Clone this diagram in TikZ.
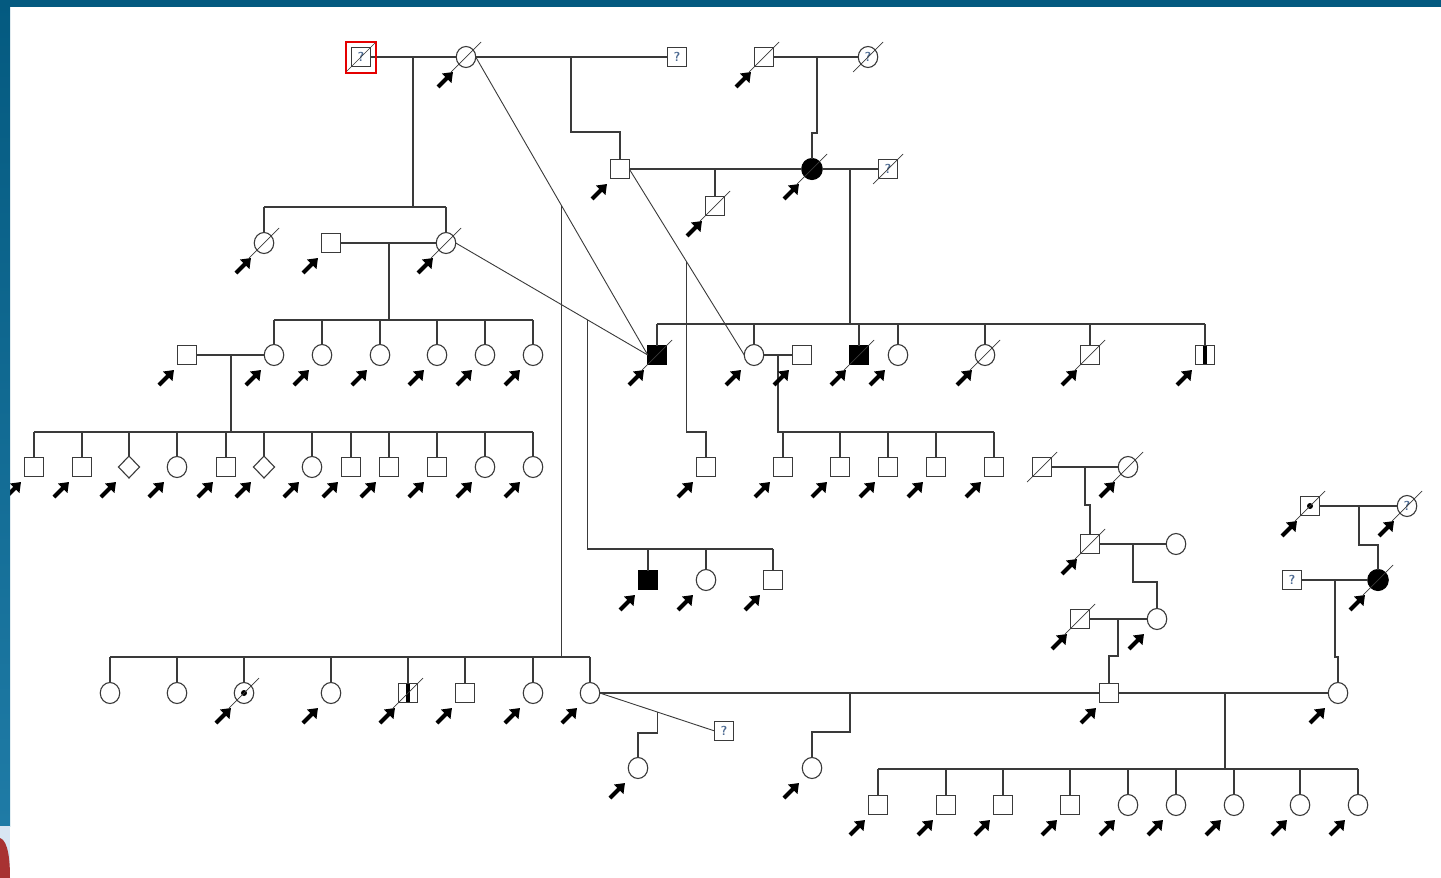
\documentclass[tikz,border=0pt]{standalone}
\usetikzlibrary{shapes.geometric,arrows.meta,calc}
\definecolor{lc}{HTML}{3A3A3A}
\definecolor{qc}{HTML}{4A6890}
\definecolor{bdA}{HTML}{045A80}
\definecolor{bdB}{HTML}{1F7BA6}
\definecolor{bdL}{HTML}{D8E6F3}
\definecolor{logo}{HTML}{A83232}
\tikzset{
  every node/.style={inner sep=0pt, outer sep=0pt},
  male/.style={draw=lc, line width=1.1pt, rectangle, minimum size=18.5pt, fill=white},
  fem/.style={draw=lc, line width=1.1pt, ellipse, minimum width=19.5pt, minimum height=21pt, fill=white},
  unk/.style={draw=lc, line width=1.1pt, diamond, minimum width=21pt, minimum height=22pt, fill=white},
  aff/.style={fill=black, draw=black},
  qm/.style={font=\sffamily\bfseries\fontsize{13}{13}\selectfont, text=qc},
  ln/.style={draw=lc, line width=1.1pt},
  thn/.style={draw=lc, line width=0.9pt},
  slash/.style={draw=lc, line width=0.7pt},
  prob/.style={draw=black, line width=4.2pt, -{Triangle[length=9pt,width=13pt]}},
  redbox/.style={draw=red!90!black, line width=2.8pt},
}
\newcommand\decd[1]{\draw[slash] ([shift={(-15,15)}]#1.center) -- ([shift={(15,-15)}]#1.center);}
\newcommand\arw[1]{\draw[prob] ([shift={(-28,30)}]#1.center) -- ([shift={(-13,15)}]#1.center);}
\begin{document}
\begin{tikzpicture}[x=1pt,y=-1pt]
\useasboundingbox (0,0) rectangle (1441,878);
\fill[white] (0,0) rectangle (1441,878);

% ---------- Generation I ----------
\node[male,qm] (I1) at (361,57) {?};
\node[fem] (I2) at (466,57) {};
\node[male,qm] (I3) at (677,57) {?};
\node[male] (I4) at (764,57) {};
\node[fem,qm] (I5) at (868,57) {?};

% ---------- Generation II ----------
\node[male] (II1) at (620,169) {};
\node[male] (II2) at (715,206) {};
\node[fem,aff,minimum width=20.5pt] (II3) at (812,169) {};
\node[male,qm] (II4) at (888,169) {?};
\node[fem] (II5) at (264,243) {};
\node[male] (II6) at (331,243) {};
\node[fem] (II7) at (446,243) {};

% ---------- Generation III ----------
\node[male] (IIIa) at (187,355) {};
\foreach \x [count=\i] in {274,322,380,437,485,533}
  {\node[fem] (IIIf\i) at (\x,355) {};}
\node[male,aff] (C1) at (657,355) {};
\node[fem] (C3) at (754,355) {};
\node[male] (C4) at (802,355) {};
\node[male,aff] (C5) at (859,355) {};
\node[fem] (C6) at (898,355) {};
\node[fem] (C7) at (985,355) {};
\node[male] (C8) at (1090,355) {};
\node[male] (C9) at (1205,355) {};

% ---------- Generation IV ----------
\foreach \x/\s [count=\i] in {34/male,82/male,129/unk,177/fem,226/male,264/unk,312/fem,351/male,389/male,437/male,485/fem,533/fem}
  {\node[\s] (L\i) at (\x,467) {};}
\node[male] (D0) at (706,467) {};
\foreach \x [count=\i] in {783,840,888,936,994}
  {\node[male] (D\i) at (\x,467) {};}
\node[male,aff] (M1) at (648,580) {};
\node[fem] (M2) at (706,580) {};
\node[male] (M3) at (773,580) {};

% ---------- right-hand families ----------
\node[male] (R1) at (1042,467) {};
\node[fem] (R2) at (1128,467) {};
\node[male] (R3) at (1090,544) {};
\node[fem] (R4) at (1176,544) {};
\node[male] (R5) at (1080,619) {};
\node[fem] (R6) at (1157,619) {};
\node[male] (R7) at (1310,506) {};
\node[fem,qm] (R8) at (1407,506) {?};
\node[male,qm] (R9) at (1292,580) {?};
\node[fem,aff,minimum width=20.5pt] (R10) at (1378,580) {};

% ---------- Generation V ----------
\foreach \x/\s [count=\i] in {110/fem,177/fem,244/fem,331/fem,408/male,465/male,533/fem,590/fem}
  {\node[\s] (V\i) at (\x,693) {};}
\node[male] (VM) at (1109,693) {};
\node[fem] (VF) at (1338,693) {};
\node[male,qm] (Q) at (724,731) {?};
\node[fem] (W1) at (638,768) {};
\node[fem] (W2) at (812,768) {};

% ---------- Generation VI ----------
\foreach \x/\s [count=\i] in {878/male,946/male,1003/male,1070/male,1128/fem,1176/fem,1234/fem,1300/fem,1358/fem}
  {\node[\s] (S\i) at (\x,805) {};}

% ---------- connectors ----------
\draw[ln] (I1) -- (I2);
\draw[ln] (413,57) -- (413,207);
\draw[ln] (II5 |- 0,207) -- (II7 |- 0,207);
\foreach \n in {II5,II7} {\draw[ln] (\n.north) -- (\n |- 0,207);}

\draw[ln] (I2) -- (I3);
\draw[ln] (571,57) -- (571,132) -- (620,132) -- (II1.north);

\draw[ln] (I4) -- (I5);
\draw[ln] (817,57) -- (817,133) -- (812,133) -- (II3.north);

\draw[ln] (II1) -- (II3);
\draw[ln] (715,169) -- (II2.north);
\draw[ln] (II3) -- (II4);
\draw[ln] (850,169) -- (850,324);
\draw[ln] (C1 |- 0,324) -- (C9 |- 0,324);
\foreach \n in {C1,C3,C5,C6,C7,C8,C9} {\draw[ln] (\n.north) -- (\n |- 0,324);}

\draw[ln] (II6) -- (II7);
\draw[ln] (389,243) -- (389,320);
\draw[ln] (IIIf1 |- 0,320) -- (IIIf6 |- 0,320);
\foreach \i in {1,...,6} {\draw[ln] (IIIf\i.north) -- (IIIf\i |- 0,320);}

\draw[ln] (IIIa) -- (IIIf1);
\draw[ln] (231,355) -- (231,432);
\draw[ln] (L1 |- 0,432) -- (L12 |- 0,432);
\foreach \i in {1,...,12} {\draw[ln] (L\i.north) -- (L\i |- 0,432);}

\draw[ln] (C3) -- (C4);
\draw[ln] (778,355) -- (778,432) -- (D5 |- 0,432);
\foreach \i in {1,...,5} {\draw[ln] (D\i.north) -- (D\i |- 0,432);}

% diagonal (second-appearance) links
\draw[thn] (I2.east) -- coordinate[pos=0.501] (v1) (C1.west);
\draw[thn] (II7.east) -- coordinate[pos=0.688] (v2) (C1.west);
\draw[thn] (II1.east) -- coordinate[pos=0.494] (v3) (C3.west);
\draw[ln] (v1) -- (v1 |- 0,657);
\draw[ln] (V1 |- 0,657) -- (V8 |- 0,657);
\foreach \i in {1,...,8} {\draw[ln] (V\i.north) -- (V\i |- 0,657);}
\draw[ln] (v2) -- (v2 |- 0,549) -- (M3 |- 0,549);
\foreach \n in {M1,M2,M3} {\draw[ln] (\n.north) -- (\n |- 0,549);}
\draw[ln] (v3) -- (v3 |- 0,432) -- (D0 |- 0,432) -- (D0.north);

\draw[ln] (V8) -- (VM);
\draw[ln] (850,693) -- (850,732) -- (812,732) -- (W2.north);
\draw[thn] (V8.east) -- coordinate[pos=0.506] (v4) (Q.west);
\draw[ln] (v4) -- (v4 |- 0,733) -- (W1 |- 0,733) -- (W1.north);

\draw[ln] (R1) -- (R2);
\draw[ln] (1085,467) -- (1085,505) -- (1090,505) -- (R3.north);
\draw[ln] (R3) -- (R4);
\draw[ln] (1133,544) -- (1133,582) -- (1157,582) -- (R6.north);
\draw[ln] (R5) -- (R6);
\draw[ln] (1118,619) -- (1118,656) -- (1109,656) -- (VM.north);
\draw[ln] (R7) -- (R8);
\draw[ln] (1359,506) -- (1359,545) -- (1378,545) -- (R10.north);
\draw[ln] (R9) -- (R10);
\draw[ln] (1335,580) -- (1335,657) -- (1338,657) -- (VF.north);
\draw[ln] (VM) -- (VF);
\draw[ln] (1225,693) -- (1225,769);
\draw[ln] (S1 |- 0,769) -- (S9 |- 0,769);
\foreach \i in {1,...,9} {\draw[ln] (S\i.north) -- (S\i |- 0,769);}

% ---------- marks inside symbols ----------
\foreach \n in {C9,V5}
  {\fill[black] ([shift={(-2,-9)}]\n.center) rectangle ([shift={(2,9)}]\n.center);}
\foreach \n in {V3,R7} {\fill[black] (\n.center) circle (3);}

% deceased
\foreach \n in {I1,I2,I4,I5,II2,II3,II4,II5,II7,C1,C5,C7,C8,R1,R2,R3,R5,R7,R8,R10,V3,V5}
  {\decd{\n}}

% probands' arrows
\foreach \n in {I2,I4,II1,II2,II3,II5,II6,II7,IIIa,IIIf1,IIIf2,IIIf3,IIIf4,IIIf5,IIIf6,
  C1,C3,C4,C5,C6,C7,C8,C9,L1,L2,L3,L4,L5,L6,L7,L8,L9,L10,L11,L12,
  D0,D1,D2,D3,D4,D5,M1,M2,M3,R2,R3,R5,R6,R7,R8,R10,
  V3,V4,V5,V6,V7,V8,VM,VF,W1,W2,S1,S2,S3,S4,S5,S6,S7,S8,S9}
  {\arw{\n}}

% red highlight
\draw[redbox] ([shift={(-15,-15)}]I1.center) rectangle ([shift={(15,16)}]I1.center);

% ---------- frame ----------
\fill[bdA] (0,0) rectangle (1441,7);
\shade[top color=bdA, bottom color=bdB] (0,0) rectangle (10,826);
\fill[bdL] (0,826) rectangle (10,878);
\fill[logo] (0,838) .. controls (5,840) and (10,848) .. (10,878) -- (0,878) -- cycle;
\end{tikzpicture}
\end{document}
